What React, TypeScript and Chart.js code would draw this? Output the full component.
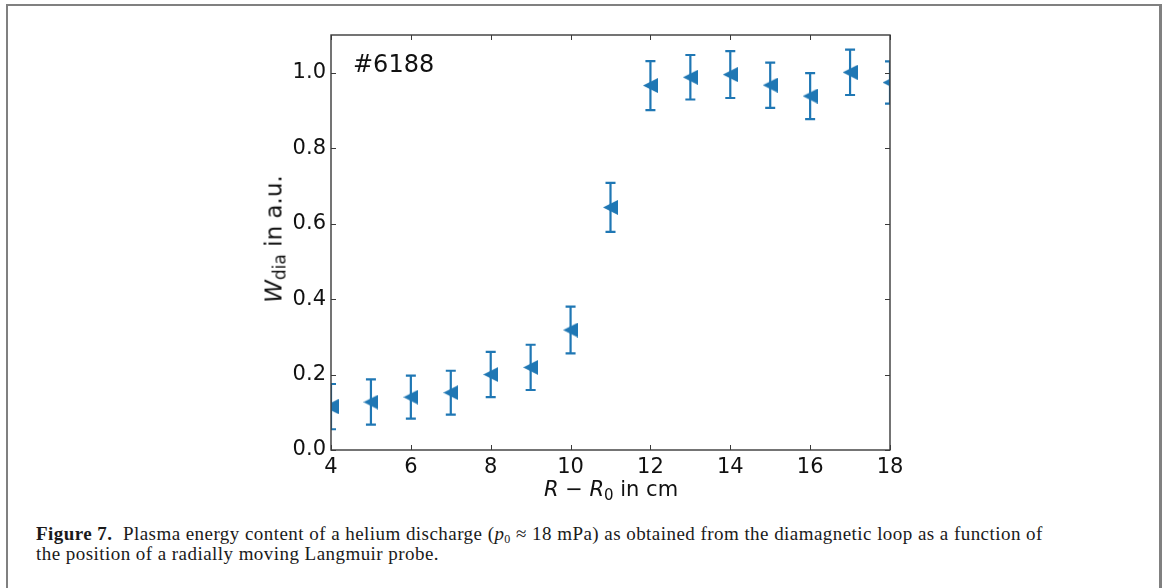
import React, { useEffect, useRef } from "react";
import { Chart, registerables } from "chart.js";

Chart.register(...registerables);

const positions = [4, 5, 6, 7, 8, 9, 10, 11, 12, 13, 14, 15, 16, 17, 18];
const wdia = [0.115, 0.127, 0.14, 0.152, 0.2, 0.219, 0.318, 0.643, 0.966, 0.988, 0.995, 0.967, 0.938, 1.001, 0.974];
const wdiaErr = [0.06, 0.06, 0.057, 0.058, 0.06, 0.06, 0.062, 0.065, 0.065, 0.059, 0.062, 0.06, 0.061, 0.06, 0.056];
const xTickValues = [4, 6, 8, 10, 12, 14, 16, 18];
const yTickValues = [0, 0.2, 0.4, 0.6, 0.8, 1.0];

const BLUE = "#1f77b4";
const AXIS = "#3a3a3a";

function makeTriangle(): HTMLCanvasElement {
  const c = document.createElement("canvas");
  c.width = 15;
  c.height = 15;
  const g = c.getContext("2d")!;
  g.fillStyle = BLUE;
  g.beginPath();
  g.moveTo(0, 7.5);
  g.lineTo(15, 0);
  g.lineTo(15, 15);
  g.closePath();
  g.fill();
  return c;
}

const framePlugin = {
  id: "frameAndErrors",
  beforeDatasetsDraw(chart: any) {
    const { ctx, chartArea: a, scales } = chart;
    ctx.save();
    ctx.beginPath();
    ctx.rect(a.left, a.top, a.right - a.left, a.bottom - a.top);
    ctx.clip();
    ctx.strokeStyle = BLUE;
    ctx.lineWidth = 2.2;
    positions.forEach((x, i) => {
      const px = scales.x.getPixelForValue(x);
      const top = scales.y.getPixelForValue(wdia[i] + wdiaErr[i]);
      const bot = scales.y.getPixelForValue(wdia[i] - wdiaErr[i]);
      ctx.beginPath();
      ctx.moveTo(px, top);
      ctx.lineTo(px, bot);
      ctx.moveTo(px - 5, top);
      ctx.lineTo(px + 5, top);
      ctx.moveTo(px - 5, bot);
      ctx.lineTo(px + 5, bot);
      ctx.stroke();
    });
    ctx.restore();
  },
  afterDraw(chart: any) {
    const { ctx, chartArea: a, scales } = chart;
    ctx.save();
    ctx.strokeStyle = AXIS;
    ctx.lineWidth = 1.4;
    ctx.strokeRect(a.left, a.top, a.right - a.left, a.bottom - a.top);
    ctx.lineWidth = 1;
    const tl = 5;
    ctx.beginPath();
    xTickValues.forEach((v) => {
      const px = Math.round(scales.x.getPixelForValue(v)) + 0.5;
      ctx.moveTo(px, a.bottom);
      ctx.lineTo(px, a.bottom - tl);
      ctx.moveTo(px, a.top);
      ctx.lineTo(px, a.top + tl);
    });
    yTickValues.forEach((v) => {
      const py = Math.round(scales.y.getPixelForValue(v)) + 0.5;
      ctx.moveTo(a.left, py);
      ctx.lineTo(a.left + tl, py);
      ctx.moveTo(a.right, py);
      ctx.lineTo(a.right - tl, py);
    });
    ctx.stroke();
    ctx.restore();
  },
};

export default function App() {
  const ref = useRef<HTMLCanvasElement | null>(null);

  useEffect(() => {
    if (!ref.current) return;
    const tri = makeTriangle();
    const chart = new Chart(ref.current, {
      type: "scatter",
      data: {
        datasets: [
          {
            data: positions.map((x, i) => ({ x, y: wdia[i] })),
            pointStyle: tri as any,
            pointRadius: 7,
            pointHoverRadius: 7,
            showLine: false,
            backgroundColor: BLUE,
            borderColor: BLUE,
            clip: 0,
          } as any,
        ],
      },
      options: {
        animation: false,
        responsive: false,
        events: [],
        layout: { padding: { left: 271, top: 35, right: 275, bottom: 20 } },
        plugins: { legend: { display: false }, tooltip: { enabled: false } },
        scales: {
          x: {
            type: "linear",
            min: 4,
            max: 18,
            grid: { display: false, drawTicks: false },
            border: { display: false },
            afterFit: (s: any) => {
              s.height = 40;
            },
            afterBuildTicks: (s: any) => {
              s.ticks = xTickValues.map((v) => ({ value: v }));
            },
            ticks: {
              padding: 5,
              color: "#111",
              font: { family: "DejaVu Sans", size: 21 },
              callback: (v: any) => String(v),
            },
          },
          y: {
            type: "linear",
            min: 0,
            max: 1.1,
            grid: { display: false, drawTicks: false },
            border: { display: false },
            afterFit: (s: any) => {
              s.width = 60;
            },
            afterBuildTicks: (s: any) => {
              s.ticks = yTickValues.map((v) => ({ value: v }));
            },
            ticks: {
              padding: 5,
              color: "#111",
              font: { family: "DejaVu Sans", size: 21 },
              callback: (v: any) => Number(v).toFixed(1),
            },
          },
        },
      },
      plugins: [framePlugin],
    });
    return () => chart.destroy();
  }, []);

  const sans = "'DejaVu Sans', sans-serif";
  return (
    <div style={{ position: "absolute", left: 0, top: 0, width: 1165, height: 588, overflow: "hidden", background: "#fff" }}>
      <div style={{ position: "absolute", left: 6, top: 4, width: 1151, height: 620, border: "2px solid #808080", borderRightWidth: 3 }} />
      <canvas ref={ref} width={1165} height={510} style={{ position: "absolute", left: 0, top: 0, width: 1165, height: 510 }} />
      <div style={{ position: "absolute", left: 353, top: 50, font: `24px ${sans}`, lineHeight: "28.8px", color: "#111", whiteSpace: "nowrap" }}>
        #6188
      </div>
      <div
        style={{
          position: "absolute",
          left: 274,
          top: 239,
          transform: "translate(-50%, -50%) rotate(-90deg)",
          font: `23px ${sans}`,
          lineHeight: "27px",
          color: "#111",
          whiteSpace: "nowrap",
        }}
      >
        <i>W</i>
        <sub style={{ fontSize: "17px", verticalAlign: "-4px", lineHeight: 0 }}>dia</sub> in a.u.
      </div>
      <div
        style={{
          position: "absolute",
          left: 611,
          top: 477,
          transform: "translateX(-50%)",
          font: `21px ${sans}`,
          lineHeight: "25.2px",
          color: "#111",
          whiteSpace: "nowrap",
        }}
      >
        <i>R</i> − <i>R</i>
        <sub style={{ fontSize: "15px", verticalAlign: "-4px", lineHeight: 0 }}>0</sub> in cm
      </div>
      <div
        style={{
          position: "absolute",
          left: 36,
          top: 524,
          font: "19px 'Liberation Serif', serif",
          lineHeight: "19.5px",
          letterSpacing: "0.45px",
          color: "#1a1a1a",
          whiteSpace: "nowrap",
        }}
      >
        <b>Figure 7.</b>&nbsp;&nbsp;Plasma energy content of a helium discharge (<i>p</i>
        <sub style={{ fontSize: "12px", verticalAlign: "-3px", lineHeight: 0 }}>0</sub> ≈ 18 mPa) as obtained from the diamagnetic loop as a function of
        <br />
        the position of a radially moving Langmuir probe.
      </div>
    </div>
  );
}
